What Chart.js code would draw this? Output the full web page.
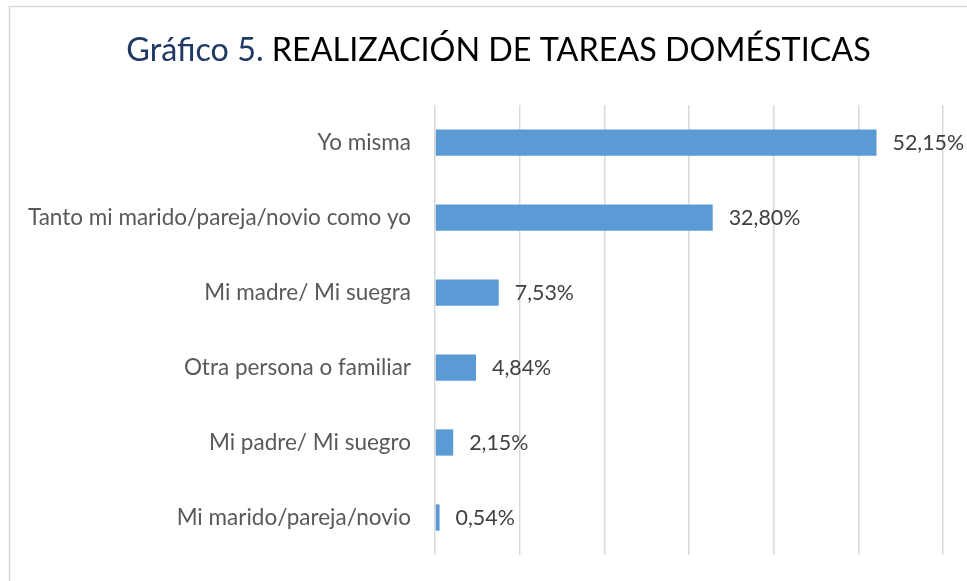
<!DOCTYPE html>
<html>
<head>
<meta charset="utf-8">
<script src="https://cdn.jsdelivr.net/npm/chart.js@4"></script>
<style>
  html, body { margin: 0; padding: 0; background: #ffffff; overflow: hidden; }
  #wrap { position: relative; width: 967px; height: 581px; }
</style>
</head>
<body>
<div id="wrap"><canvas id="c" width="967" height="581"></canvas></div>
<script>
const titlePrefix = 'Gráfico 5.';
const titleMain = ' REALIZACIÓN DE TAREAS DOMÉSTICAS';
const categories = [
  'Yo misma',
  'Tanto mi marido/pareja/novio como yo',
  'Mi madre/ Mi suegra',
  'Otra persona o familiar',
  'Mi padre/ Mi suegro',
  'Mi marido/pareja/novio'
];
const values = [52.15, 32.80, 7.53, 4.84, 2.15, 0.54];
const axisMin = 0;
const axisMax = 60;
const axisStep = 10;

const FONT = 'Lato, "Open Sans", sans-serif';

const framePlugin = {
  id: 'frame',
  beforeDraw(chart) {
    const ctx = chart.ctx;
    ctx.save();
    ctx.fillStyle = '#ffffff';
    ctx.fillRect(0, 0, chart.width, chart.height);
    ctx.strokeStyle = '#d9d9d9';
    ctx.lineWidth = 1.5;
    ctx.beginPath();
    ctx.moveTo(9.5, chart.height + 5);
    ctx.lineTo(9.5, 6.5);
    ctx.lineTo(chart.width + 5, 6.5);
    ctx.stroke();
    ctx.restore();
  }
};

const titlePlugin = {
  id: 'twoColorTitle',
  afterDraw(chart) {
    const ctx = chart.ctx;
    ctx.save();
    ctx.font = '400 32.3px ' + FONT;
    ctx.textBaseline = 'alphabetic';
    const w1 = ctx.measureText(titlePrefix).width;
    const w2 = ctx.measureText(titleMain).width;
    const cx = 498.5;
    const x0 = cx - (w1 + w2) / 2;
    const y = 61;
    ctx.fillStyle = '#1f3864';
    ctx.fillText(titlePrefix, x0, y);
    ctx.fillStyle = '#000000';
    ctx.fillText(titleMain, x0 + w1, y);
    ctx.restore();
  }
};

const labelPlugin = {
  id: 'valueLabels',
  afterDatasetsDraw(chart) {
    const ctx = chart.ctx;
    const meta = chart.getDatasetMeta(0);
    ctx.save();
    ctx.font = '400 21.4px ' + FONT;
    ctx.fillStyle = '#404040';
    ctx.textAlign = 'left';
    ctx.textBaseline = 'middle';
    meta.data.forEach((bar, i) => {
      const txt = values[i].toFixed(2).replace('.', ',') + '%';
      ctx.fillText(txt, bar.x + 16, bar.y + 1);
    });
    ctx.restore();
  }
};

new Chart(document.getElementById('c'), {
  type: 'bar',
  data: {
    labels: categories,
    datasets: [{
      data: values,
      backgroundColor: '#5b9bd5',
      borderWidth: 0,
      categoryPercentage: 1.0,
      barPercentage: 0.35
    }]
  },
  options: {
    indexAxis: 'y',
    responsive: false,
    animation: false,
    devicePixelRatio: 1,
    layout: { padding: { left: 0, right: 24, top: 105, bottom: 26 } },
    plugins: {
      legend: { display: false },
      title: { display: false },
      tooltip: { enabled: false }
    },
    scales: {
      x: {
        min: axisMin,
        max: axisMax,
        ticks: { display: false, stepSize: axisStep },
        grid: { color: '#d9d9d9', lineWidth: 1.5, drawTicks: false },
        border: { display: false },
        afterFit(scale) { scale.height = 0; scale.paddingLeft = 0; scale.paddingRight = 0; }
      },
      y: {
        grid: { display: false, drawTicks: false },
        border: { display: false },
        ticks: {
          color: '#595959',
          font: { family: FONT, size: 22.5 },
          padding: 24
        },
        afterFit(scale) {
          scale.width = 435;
          scale.paddingTop = 0;
          scale.paddingBottom = 0;
        }
      }
    }
  },
  plugins: [framePlugin, titlePlugin, labelPlugin]
});
</script>
</body>
</html>
